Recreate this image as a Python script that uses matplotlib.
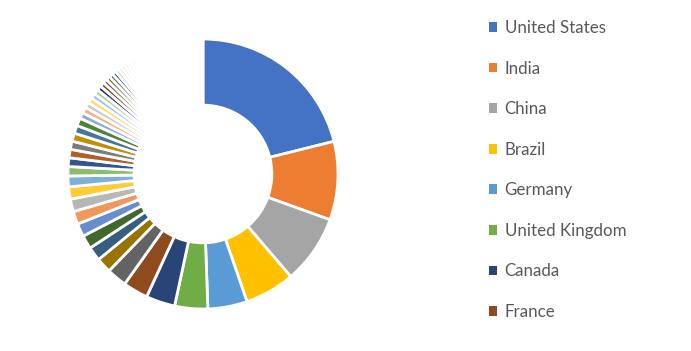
import matplotlib as mpl
mpl.use('Agg')
import matplotlib.pyplot as plt
from matplotlib.patches import Patch
from matplotlib.colors import to_rgb

# countries (only the first eight are named in the legend)
countries = ['United States', 'India', 'China', 'Brazil', 'Germany',
             'United Kingdom', 'Canada', 'France']

# slice sizes (share of the circle, in degrees)
values = [75.3, 33.5, 29.4, 21.3, 16.8, 14.1, 12.4, 10.7,
          8.6, 6.5, 6.0, 5.8, 5.6, 5.5, 5.4, 5.2,
          4.6, 4.0, 3.7, 3.6, 3.5, 3.5, 3.4, 3.3,
          2.6, 2.5, 2.4, 2.3, 2.2, 2.1,
          2.0, 1.9, 1.8, 1.75, 1.7, 1.65,
          1.6, 1.5, 1.45, 1.4, 1.35, 1.3,
          1.25, 1.2, 1.15, 1.1, 1.05, 1.0,
          0.95, 0.92, 0.9, 0.88, 0.86, 0.84, 0.82, 0.8,
          0.78, 0.76, 0.75, 0.74, 0.73, 0.72, 0.71, 0.7,
          0.69, 0.68, 0.67, 0.66, 0.65, 0.64, 0.63, 0.62,
          0.61, 0.6, 0.59, 0.58, 0.57, 0.56, 0.55, 0.54,
          0.53, 0.52, 0.51, 0.5]

# Office palette and the shade/tint steps Excel cycles through
base = ['#4472C4', '#ED7D31', '#A5A5A5', '#FFC000', '#5B9BD5', '#70AD47']
steps = [0, -0.4, 0.2, -0.25, 0.4, -0.5, 0.6, -0.15, 0.8, -0.7, 0.9, -0.05, 0.95, -0.6, 0.97]


def vary(c, k):
    r = to_rgb(c)
    if k < 0:
        return tuple(v * (1 + k) for v in r)
    return tuple(v + (1 - v) * k for v in r)


colors = [vary(base[i % 6], steps[(i // 6) % len(steps)]) for i in range(len(values))]

fig = plt.figure(figsize=(6.91, 3.51), dpi=100)
W, H = 691, 351
cx, cy, R = 203, 174, 135
ax = fig.add_axes([(cx - R) / W, (H - cy - R) / H, 2 * R / W, 2 * R / H])

wedges, _ = ax.pie(values, colors=colors, startangle=90, counterclock=False,
                   radius=1, wedgeprops=dict(width=0.49, edgecolor='white', linewidth=2))
ax.set_xlim(-1, 1)
ax.set_ylim(-1, 1)
ax.axis('off')

handles = [Patch(facecolor=colors[i], edgecolor='none') for i in range(len(countries))]
fig.legend(handles, countries, loc='upper left', bbox_to_anchor=(489 / W, 1 - 20 / H),
           frameon=False, prop=dict(family='Lato', size=12.2), labelcolor='#595959',
           handlelength=0.5, handleheight=0.5, handletextpad=0.42, labelspacing=1.45,
           borderpad=0, borderaxespad=0)

fig.savefig('out.png', dpi=100)
